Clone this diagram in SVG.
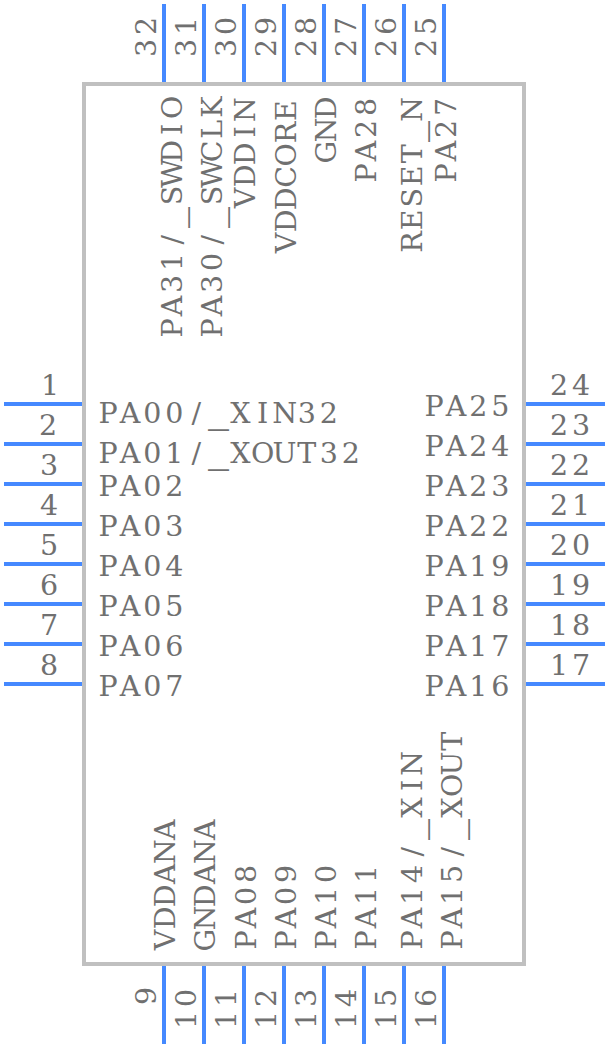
<svg xmlns="http://www.w3.org/2000/svg" width="608" height="1048" viewBox="0 0 608 1048">
<style>
text{font-family:"DejaVu Serif",serif;font-size:28.5px;fill:#707070;text-anchor:middle}
.u{font-size:42px}
.p{stroke:#4589ff;stroke-width:4;fill:none}
.b{stroke:#c0c0c0;stroke-width:4;fill:#fff}
</style>
<g id="body"><rect class="b" x="84" y="84" width="440" height="880"/></g>
<g id="connectors">
<path class="p" d="M4 404H82M4 444H82M4 484H82M4 524H82M4 564H82M4 604H82M4 644H82M4 684H82"/>
<path class="p" d="M526 404H605M526 444H605M526 484H605M526 524H605M526 564H605M526 604H605M526 644H605M526 684H605"/>
<path class="p" d="M164 4V82M204 4V82M244 4V82M284 4V82M324 4V82M364 4V82M404 4V82M444 4V82"/>
<path class="p" d="M164 966V1044M204 966V1044M244 966V1044M284 966V1044M324 966V1044M364 966V1044M404 966V1044M444 966V1044"/>
</g>
<g id="labels-left">
<text transform="translate(98 423)" x="10 32.1 54.2 76.2 98.3 120.4 142.5 164.6 186.6 208.7 230.8" dy="0 0 0 0 0 -2 2">PA00/<tspan class="u">_</tspan>XIN32</text>
<text transform="translate(98 463)" x="10 32.1 54.2 76.2 98.3 120.4 142.5 164.6 186.6 208.7 230.8 252.9" dy="0 0 0 0 0 -2 2">PA01/<tspan class="u">_</tspan>XOUT32</text>
<text transform="translate(98 496)" x="10 32.1 54.2 76.2">PA02</text>
<text transform="translate(98 536)" x="10 32.1 54.2 76.2">PA03</text>
<text transform="translate(98 576)" x="10 32.1 54.2 76.2">PA04</text>
<text transform="translate(98 616)" x="10 32.1 54.2 76.2">PA05</text>
<text transform="translate(98 656)" x="10 32.1 54.2 76.2">PA06</text>
<text transform="translate(98 696)" x="10 32.1 54.2 76.2">PA07</text>
</g>
<g id="labels-right">
<text transform="translate(424 416)" x="10 32.1 54.2 76.2">PA25</text>
<text transform="translate(424 456)" x="10 32.1 54.2 76.2">PA24</text>
<text transform="translate(424 496)" x="10 32.1 54.2 76.2">PA23</text>
<text transform="translate(424 536)" x="10 32.1 54.2 76.2">PA22</text>
<text transform="translate(424 576)" x="10 32.1 54.2 76.2">PA19</text>
<text transform="translate(424 616)" x="10 32.1 54.2 76.2">PA18</text>
<text transform="translate(424 656)" x="10 32.1 54.2 76.2">PA17</text>
<text transform="translate(424 696)" x="10 32.1 54.2 76.2">PA16</text>
</g>
<g id="labels-top">
<text transform="translate(182 338) rotate(-90)" x="10 32.1 54.2 76.2 98.3 120.4 142.5 164.6 186.6 208.7 230.8" dy="0 0 0 0 0 -2 2">PA31/<tspan class="u">_</tspan>SWDIO</text>
<text transform="translate(222 338) rotate(-90)" x="10 32.1 54.2 76.2 98.3 120.4 142.5 164.6 186.6 208.7 230.8" dy="0 0 0 0 0 -2 2">PA30/<tspan class="u">_</tspan>SWCLK</text>
<text transform="translate(255 208) rotate(-90)" x="10 32.1 54.2 76.2 98.3">VDDIN</text>
<text transform="translate(296 253) rotate(-90)" x="10 32.1 54.2 76.2 98.3 120.4 142.5">VDDCORE</text>
<text transform="translate(336 162) rotate(-90)" x="10 32.1 54.2">GND</text>
<text transform="translate(376 183) rotate(-90)" x="10 32.1 54.2 76.2">PA28</text>
<text transform="translate(422 252) rotate(-90)" x="10 32.1 54.2 76.2 98.3 120.4 142.5" dy="0 0 0 0 0 -2 2">RESET<tspan class="u">_</tspan>N</text>
<text transform="translate(456 183) rotate(-90)" x="10 32.1 54.2 76.2">PA27</text>
</g>
<g id="labels-bottom">
<text transform="translate(175 950) rotate(-90)" x="10 32.1 54.2 76.2 98.3 120.4">VDDANA</text>
<text transform="translate(215 950) rotate(-90)" x="10 32.1 54.2 76.2 98.3 120.4">GNDANA</text>
<text transform="translate(256 950) rotate(-90)" x="10 32.1 54.2 76.2">PA08</text>
<text transform="translate(296 950) rotate(-90)" x="10 32.1 54.2 76.2">PA09</text>
<text transform="translate(336 950) rotate(-90)" x="10 32.1 54.2 76.2">PA10</text>
<text transform="translate(376 950) rotate(-90)" x="10 32.1 54.2 76.2">PA11</text>
<text transform="translate(422 950) rotate(-90)" x="10 32.1 54.2 76.2 98.3 120.4 142.5 164.6 186.6" dy="0 0 0 0 0 -2 2">PA14/<tspan class="u">_</tspan>XIN</text>
<text transform="translate(462 950) rotate(-90)" x="10 32.1 54.2 76.2 98.3 120.4 142.5 164.6 186.6 208.7" dy="0 0 0 0 0 -2 2">PA15/<tspan class="u">_</tspan>XOUT</text>
</g>
<g id="numbers">
<text x="50" y="395">1</text><text x="48" y="435">2</text><text x="49" y="475">3</text><text x="49" y="515">4</text><text x="49" y="555">5</text><text x="49" y="595">6</text><text x="49" y="635">7</text><text x="49" y="675">8</text>
<text x="559 581" y="395">24</text><text x="559 581" y="435">23</text><text x="559 581" y="475">22</text><text x="559 581" y="515">21</text><text x="559 581" y="555">20</text><text x="559 581" y="595">19</text><text x="559 581" y="635">18</text><text x="559 581" y="675">17</text>
<text transform="translate(156 37) rotate(-90)" x="-11 11">32</text><text transform="translate(196 37) rotate(-90)" x="-11 11">31</text><text transform="translate(236 37) rotate(-90)" x="-11 11">30</text><text transform="translate(276 37) rotate(-90)" x="-11 11">29</text><text transform="translate(316 37) rotate(-90)" x="-11 11">28</text><text transform="translate(356 37) rotate(-90)" x="-11 11">27</text><text transform="translate(396 37) rotate(-90)" x="-11 11">26</text><text transform="translate(436 37) rotate(-90)" x="-11 11">25</text>
<text transform="translate(156 996) rotate(-90)">9</text><text transform="translate(196 1009) rotate(-90)" x="-11 11">10</text><text transform="translate(236 1009) rotate(-90)" x="-11 11">11</text><text transform="translate(276 1009) rotate(-90)" x="-11 11">12</text><text transform="translate(316 1009) rotate(-90)" x="-11 11">13</text><text transform="translate(356 1009) rotate(-90)" x="-11 11">14</text><text transform="translate(396 1009) rotate(-90)" x="-11 11">15</text><text transform="translate(436 1009) rotate(-90)" x="-11 11">16</text>
</g>
</svg>
